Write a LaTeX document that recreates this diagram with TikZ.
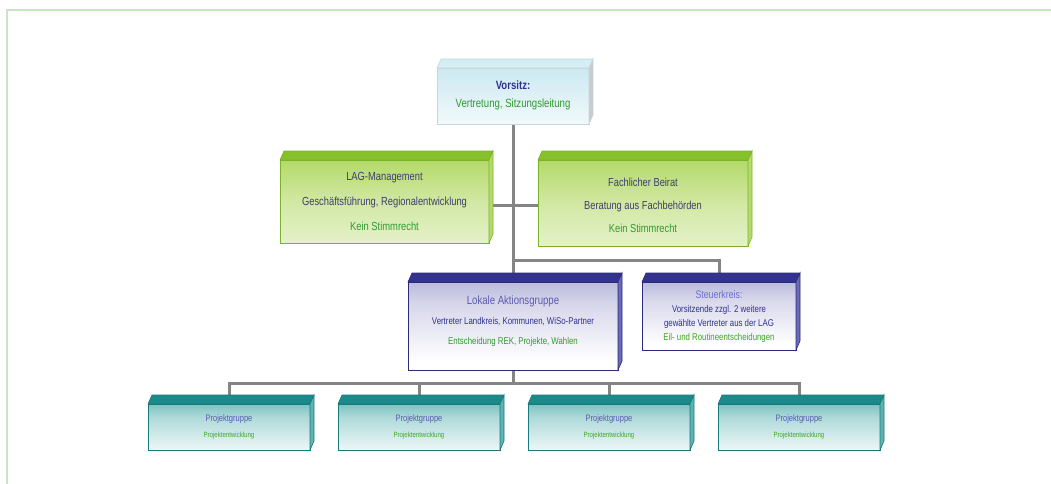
\documentclass[tikz,border=0pt]{standalone}
\usepackage{fontspec}
\setmainfont{Liberation Sans}[FakeStretch=0.8]
\usepackage{xcolor}
\definecolor{frameg}{HTML}{C9E5C1}
\definecolor{conng}{HTML}{858585}
\definecolor{dblue}{HTML}{2E3192}
\definecolor{gblue}{HTML}{3E3E6E}
\definecolor{lblue}{HTML}{5A5AB0}
\definecolor{vlblue}{HTML}{6C6CCC}
\definecolor{tgreen}{HTML}{2F9A2F}
\definecolor{lgreen}{HTML}{3DA81E}
\definecolor{grtop}{HTML}{99CC33}
\definecolor{grface}{HTML}{86C12A}
\definecolor{grside}{HTML}{B5DA6E}
\definecolor{grline}{HTML}{7AB32A}
\definecolor{bltop}{HTML}{3A3A9E}
\definecolor{blface}{HTML}{33338F}
\definecolor{blside}{HTML}{6A6AB8}
\definecolor{blline}{HTML}{2B2B7A}
\definecolor{tltop}{HTML}{1E9595}
\definecolor{tlface}{HTML}{1A8A8A}
\definecolor{tlside}{HTML}{5FB3B3}
\definecolor{tlline}{HTML}{187A7A}
\definecolor{cytop}{HTML}{B9E1EC}
\definecolor{cyface}{HTML}{D4EEF4}
\definecolor{cyside}{HTML}{C8CCD0}
\definecolor{cyline}{HTML}{C9D6DC}
\pgfdeclareverticalshading{greenshade}{100bp}{color(0bp)=(grtop!8!white); color(50bp)=(grtop!45!white); color(85bp)=(grtop!85!white); color(100bp)=(grtop)}
\pgfdeclareverticalshading{blueshade}{100bp}{color(0bp)=(white); color(30bp)=(white); color(62bp)=(bltop!20!white); color(88bp)=(bltop!50!white); color(100bp)=(bltop)}
\pgfdeclareverticalshading{tealshade}{100bp}{color(0bp)=(white); color(25bp)=(tltop!8!white); color(60bp)=(tltop!35!white); color(90bp)=(tltop!80!white); color(100bp)=(tltop)}
\pgfdeclareverticalshading{cyanshade}{100bp}{color(0bp)=(white); color(30bp)=(cytop!25!white); color(100bp)=(cytop)}
\newcommand\depthfaces[4]{%
  \filldraw[fill=#2,draw=#4,line width=0.6pt] (#1.north west) -- ++(4,-9) -- ([shift={(4,-9)}]#1.north east) -- (#1.north east) -- cycle;
  \filldraw[fill=#3,draw=#4,line width=0.6pt] (#1.north east) -- ++(4,-9) -- ([shift={(4,-9)}]#1.south east) -- (#1.south east) -- cycle;}
\begin{document}
\begin{tikzpicture}[x=1pt,y=-1pt,
  conn/.style={draw=conng,line width=3pt},
  boxbase/.style={rectangle,inner sep=0pt,outer sep=0pt,align=center,line width=0.8pt},
  cyanbox/.style={boxbase,draw=cyline,shading=cyanshade},
  greenbox/.style={boxbase,draw=grline,shading=greenshade},
  bluebox/.style={boxbase,draw=blline,shading=blueshade},
  tealbox/.style={boxbase,draw=tlline,shading=tealshade},
  projbox/.style={tealbox,minimum width=162,minimum height=46},
  label/.style={inner sep=0pt,align=center}
]
\useasboundingbox (0,0) rectangle (1051,484);
% frame
\draw[frameg,line width=1.8pt] (7,484) -- (7,10) -- (1051,10);

% junctions
\coordinate (ja) at (513,205);
\coordinate (jb) at (513,260);
\coordinate (jc) at (513,383);

% boxes (named)
\path
  node[cyanbox,minimum width=152,minimum height=56] (vor) at (513,96) {}
  node[greenbox,minimum width=209,minimum height=83] (lag) at (384.5,201.5) {}
  node[greenbox,minimum width=210,minimum height=86] (fach) at (643,203) {}
  node[bluebox,minimum width=210,minimum height=88] (lok) at (513,326) {}
  node[bluebox,minimum width=154,minimum height=68] (steu) at (719,316) {}
  node[projbox] (p1) at (229,427) {}
  node[projbox] (p2) at (419,427) {}
  node[projbox] (p3) at (609,427) {}
  node[projbox] (p4) at (799,427) {};

% connectors
\draw[conn] (vor.south) -- (lok.north);
\draw[conn] (lag.east|-ja) -- (fach.west|-ja);
\draw[conn] (jb) -| (steu.north);
\draw[conn] (lok.south) -- (jc);
\draw[conn] (p1.north) |- (jc) -| (p4.north);
\draw[conn] (p2.north) -- (p2.north|-jc);
\draw[conn] (p3.north) -- (p3.north|-jc);

% boxes drawn over connectors, with 3D faces and texts
\node[cyanbox,minimum width=152,minimum height=56] (vorf) at (vor) {};
\depthfaces{vor}{cyface}{cyside}{cyline}
\node[label,font=\fontsize{12}{18}\selectfont] (vort) at ([yshift=1]vor) {\textcolor{dblue}{\textbf{Vorsitz:}}\\\textcolor{tgreen}{Vertretung, Sitzungsleitung}};

\node[greenbox,minimum width=209,minimum height=83] (lagf) at (lag) {};
\depthfaces{lag}{grface}{grside}{grline}
\node[label,font=\fontsize{11.7}{25}\selectfont] (lagt) at (lag) {\textcolor{gblue}{LAG-Management}\\\textcolor{gblue}{Geschäftsführung, Regionalentwicklung}\\\textcolor{tgreen}{Kein Stimmrecht}};

\node[greenbox,minimum width=210,minimum height=86] (fachf) at (fach) {};
\depthfaces{fach}{grface}{grside}{grline}
\node[label,font=\fontsize{11.6}{23}\selectfont] (facht) at ([yshift=-2]fach) {\textcolor{gblue}{Fachlicher Beirat}\\\textcolor{gblue}{Beratung aus Fachbehörden}\\\textcolor{tgreen}{Kein Stimmrecht}};

\node[bluebox,minimum width=210,minimum height=88] (lokf) at (lok) {};
\depthfaces{lok}{blface}{blside}{blline}
\node[label,font=\fontsize{9.8}{20}\selectfont] (lokt) at ([yshift=5]lok) {\textcolor{lblue}{\fontsize{12}{20}\selectfont Lokale Aktionsgruppe}\\\textcolor{dblue}{Vertreter Landkreis, Kommunen, WiSo-Partner}\\\textcolor{tgreen}{Entscheidung REK, Projekte, Wahlen}};

\node[bluebox,minimum width=154,minimum height=68] (steuf) at (steu) {};
\depthfaces{steu}{blface}{blside}{blline}
\node[label,font=\fontsize{9.8}{14}\selectfont] (steut) at ([yshift=-1]steu) {\textcolor{vlblue}{\fontsize{11}{14}\selectfont Steuerkreis:}\\\textcolor{dblue}{Vorsitzende zzgl. 2 weitere}\\\textcolor{dblue}{gewählte Vertreter aus der LAG}\\\textcolor{lgreen}{Eil- und Routineentscheidungen}};

\foreach \p in {p1,p2,p3,p4}{
  \node[projbox] (\p f) at (\p) {};
  \depthfaces{\p}{tlface}{tlside}{tlline}
  \node[label,font=\fontsize{9.4}{16}\selectfont] (\p t) at (\p) {\textcolor{lblue}{Projektgruppe}\\\textcolor{lgreen}{\fontsize{7.6}{16}\selectfont Projektentwicklung}};
}
\end{tikzpicture}
\end{document}
